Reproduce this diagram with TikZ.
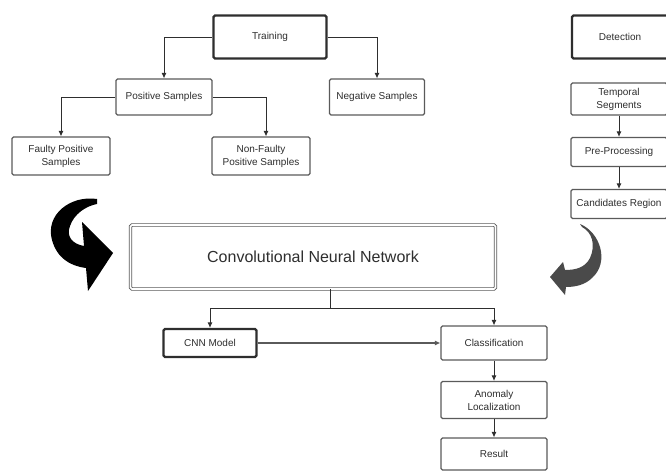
\documentclass[tikz,border=0pt]{standalone}
\usepackage{fontspec}
\setmainfont{Liberation Sans}
\usetikzlibrary{arrows.meta,positioning}
\definecolor{ink}{HTML}{2E2E2E}
\definecolor{rim}{HTML}{5A5A5A}
\definecolor{swoop}{HTML}{4A4A4A}
\tikzset{
  >={Latex[length=5.5pt,width=5pt]},
  every node/.style={font=\fontsize{10}{13}\selectfont,text=ink},
  box/.style={draw=rim,line width=1.1pt,rounded corners=1.5pt,fill=white,align=center,inner sep=2pt},
  headbox/.style={box,draw=ink,line width=2.2pt},
  netbox/.style={box,draw=rim,double=white,double distance=1.6pt,line width=0.9pt,font=\fontsize{16}{19}\selectfont},
  arrow/.style={->,line width=0.9pt,draw=ink},
  thickarr/.style={->,line width=1.6pt,draw=rim},
}

\begin{document}
\begin{tikzpicture}[x=1pt,y=-1pt]
\useasboundingbox (0,0) rectangle (666,473);
% training branch
\node[headbox,minimum width=113,minimum height=43] (train) at (270,37) {Training};
\node[box,minimum width=96,minimum height=36] (pos) at (164,97) {Positive Samples};
\node[box,minimum width=95,minimum height=36] (neg) at (377,97) {Negative Samples};
\node[box,minimum width=98,minimum height=38] (faulty) at (61,156) {Faulty Positive\\Samples};
\node[box,minimum width=98,minimum height=38] (nonfaulty) at (261,156) {Non-Faulty\\Positive Samples};
\draw[arrow] (train.west) -| (pos.north);
\draw[arrow] (train.east) -| (neg.north);
\draw[arrow] (pos.west) -| (faulty.north);
\draw[arrow] (pos.east) -| ([xshift=5pt]nonfaulty.north);
% detection branch
\node[headbox,minimum width=96,minimum height=43] (detect) at (620,37) {Detection};
\node[box,minimum width=96,minimum height=32] (segments) at (619,99) {Temporal\\Segments};
\node[box,minimum width=96,minimum height=29] (prep) at (619,152) {Pre-Processing};
\node[box,minimum width=96,minimum height=29,inner sep=1pt] (cand) at (619,204) {Candidates Region};
\draw[arrow] (segments) -- (prep);
\draw[arrow] (prep) -- (cand);
% network
\node[netbox,minimum width=365,minimum height=64] (cnn) at (313,257) {Convolutional Neural Network};
\node[headbox,minimum width=93,minimum height=28] (model) at (210,343) {CNN Model};
\node[box,minimum width=106,minimum height=34] (classify) at (494,343) {Classification};
\node[box,minimum width=106,minimum height=37] (anomaly) at (494,400) {Anomaly\\Localization};
\node[box,minimum width=106,minimum height=32] (result) at (494,454) {Result};
\coordinate (split) at (330,308);
\draw[line width=0.9pt,draw=ink] (cnn.south -| split) -- (split);
\draw[arrow] (split) -| (model.north);
\draw[arrow] (split) -| (classify.north);
\draw[thickarr] (model) -- (classify);
\draw[arrow] (classify) -- (anomaly);
\draw[arrow] (anomaly) -- (result);
% curved arrows
\fill[black] (97,199) .. controls (70,195) and (45,215) .. (52,240)
  .. controls (57,258) and (70,266) .. (86,268) -- (88,291) -- (113,253) -- (82,222)
  -- (84,246) .. controls (72,244) and (66,236) .. (70,226)
  .. controls (74,214) and (86,206) .. (97,204) -- cycle;
\fill[swoop] (580,224) .. controls (600,232) and (610,262) .. (592,278)
  .. controls (585,285) and (575,287) .. (566,287) -- (565,295) -- (550,277) -- (563,262)
  -- (565,270) .. controls (575,270) and (585,268) .. (590,258)
  .. controls (596,245) and (592,232) .. (582,227) -- cycle;
\end{tikzpicture}
\end{document}
